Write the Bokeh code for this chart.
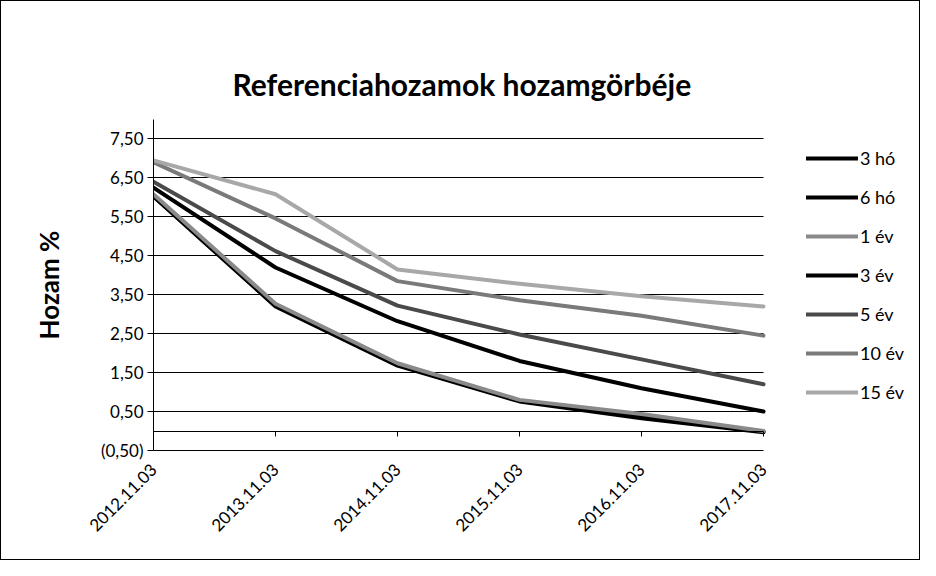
import math
from bokeh.plotting import figure
from bokeh.models import FixedTicker, LinearAxis, Legend, LegendItem, Range1d
from bokeh.embed import file_html
from bokeh.resources import INLINE

dates = ["2012.11.03", "2013.11.03", "2014.11.03", "2015.11.03", "2016.11.03", "2017.11.03"]
x_idx = [0, 1, 2, 3, 4, 5]

series_names = ["3 hó", "6 hó", "1 év", "3 év", "5 év", "10 év", "15 év"]
y_3ho = [6.02, 3.20, 1.68, 0.76, 0.33, -0.03]
y_6ho = [6.05, 3.23, 1.70, 0.78, 0.36, -0.01]
y_1ev = [6.08, 3.27, 1.74, 0.80, 0.44, 0.00]
y_3ev = [6.25, 4.20, 2.82, 1.80, 1.10, 0.50]
y_5ev = [6.40, 4.62, 3.22, 2.48, 1.84, 1.20]
y_10ev = [6.90, 5.46, 3.85, 3.36, 2.96, 2.45]
y_15ev = [6.95, 6.08, 4.15, 3.78, 3.46, 3.20]

y_ticks = [-0.5, 0.5, 1.5, 2.5, 3.5, 4.5, 5.5, 6.5, 7.5]
y_tick_labels = ["(0,50)", "0,50", "1,50", "2,50", "3,50", "4,50", "5,50", "6,50", "7,50"]

colors = ["#000000", "#000000", "#8a8a8a", "#000000", "#4a4a4a", "#7a7a7a", "#a8a8a8"]
widths = [4, 4, 4, 4, 4, 4, 4]
all_y = [y_3ho, y_6ho, y_1ev, y_3ev, y_5ev, y_10ev, y_15ev]

FONT = "Lato"

# plot area spans 610 px for the 5 data intervals; the frame is widened to hold the legend
FRAME_LEFT, FRAME_RIGHT, DATA_W = 152, 914, 610
x_end = 5 * (FRAME_RIGHT - FRAME_LEFT) / DATA_W

p = figure(width=920, height=560, output_backend="svg", toolbar_location=None,
           x_range=Range1d(0, x_end), y_range=Range1d(-0.5, 8.0),
           min_border_left=FRAME_LEFT, min_border_right=920 - FRAME_RIGHT,
           min_border_top=118, min_border_bottom=111,
           title="Referenciahozamok hozamgörbéje")
p.styles = {"border": "1px solid #000"}
p.title.align = "left"
p.title.offset = 79
p.title.text_font = FONT
p.title.text_font_style = "bold"
p.title.text_font_size = "30px"
p.title.text_color = "#000"
p.title.standoff = 36
p.outline_line_color = None

# label x axis at the bottom
xa = p.xaxis[0]
xa.ticker = FixedTicker(ticks=x_idx)
xa.bounds = (0, 5)
xa.major_label_overrides = {i: d for i, d in zip(x_idx, dates)}
xa.major_label_orientation = math.pi / 4
xa.major_label_text_font = FONT
xa.major_label_text_font_size = "17px"
xa.major_label_text_color = "#000"
xa.axis_line_color = "#000"
xa.major_tick_line_color = None
xa.minor_tick_line_color = None
xa.major_label_standoff = 10

# axis line at zero with tick marks
zero_axis = LinearAxis(fixed_location=0, ticker=FixedTicker(ticks=x_idx), bounds=(0, 5))
zero_axis.major_label_text_alpha = 0
zero_axis.major_label_text_font_size = "1px"
zero_axis.major_tick_in = 0
zero_axis.major_tick_out = 5
zero_axis.minor_tick_line_color = None
zero_axis.axis_line_color = "#000"
zero_axis.major_tick_line_color = "#000"
p.add_layout(zero_axis, "below")

ya = p.yaxis[0]
ya.ticker = FixedTicker(ticks=y_ticks)
ya.bounds = (-0.5, 8.0)
ya.major_label_overrides = {t: l for t, l in zip(y_ticks, y_tick_labels)}
ya.major_label_text_font = FONT
ya.major_label_text_font_size = "17px"
ya.major_label_text_color = "#000"
ya.axis_line_color = "#000"
ya.major_tick_line_color = "#000"
ya.major_tick_in = 0
ya.major_tick_out = 6
ya.minor_tick_line_color = None
ya.axis_label = "Hozam %"
ya.axis_label_text_font = FONT
ya.axis_label_text_font_style = "bold"
ya.axis_label_text_font_size = "26px"
ya.axis_label_text_color = "#000"
ya.axis_label_standoff = 33
ya.major_label_standoff = 4

p.xgrid.grid_line_color = None
p.ygrid.ticker = FixedTicker(ticks=y_ticks)
p.ygrid.cross_bounds = (0, 5)
p.ygrid.grid_line_color = "#000"
p.ygrid.grid_line_width = 1

items = []
for name, ys, c, w in zip(series_names, all_y, colors, widths):
    r = p.line(x_idx, ys, line_color=c, line_width=w, line_join="round", line_cap="round")
    items.append(LegendItem(label=name, renderers=[r]))

legend = Legend(items=items, location=(653, 47), orientation="vertical")
legend.border_line_color = None
legend.background_fill_alpha = 0
legend.label_text_font = FONT
legend.label_text_font_size = "18px"
legend.label_text_color = "#000"
legend.glyph_width = 52
legend.glyph_height = 22
legend.spacing = 17
legend.label_standoff = 2
legend.padding = 0
legend.margin = 0
p.add_layout(legend, "center")

open("out.html", "w").write(file_html(p, INLINE))
